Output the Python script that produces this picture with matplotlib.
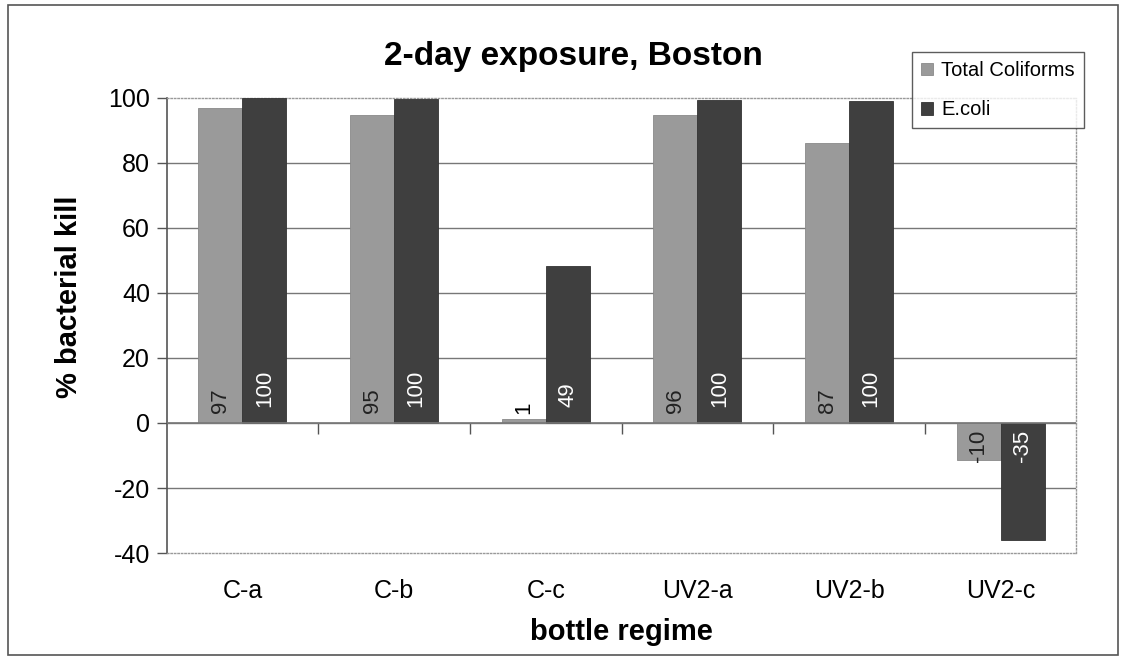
import numpy as np
import matplotlib.pyplot as plt
from matplotlib.patches import Rectangle

plt.rcParams["font.family"] = ["Liberation Sans", "DejaVu Sans"]
plt.rcParams["axes.unicode_minus"] = False

regimes = ["C-a", "C-b", "C-c", "UV2-a", "UV2-b", "UV2-c"]
coliforms = [96.8, 94.8, 1.2, 94.8, 86.0, -11.4]
ecoli = [99.9, 99.5, 48.4, 99.2, 99.0, -36.0]
coliform_labels = ["97", "95", "1", "96", "87", "-10"]
ecoli_labels = ["100", "100", "49", "100", "100", "-35"]

light = "#9a9a9a"
dark = "#3f3f3f"

fig = plt.figure(figsize=(11.26, 6.6), dpi=100)
ax = fig.add_axes([0.148, 0.162, 0.808, 0.690])
fig.patches.append(Rectangle((0.007, 0.008), 0.986, 0.984, transform=fig.transFigure,
                             fill=False, edgecolor="#555555", linewidth=1.2))

x = np.arange(len(regimes))
w = 0.29
ax.bar(x - w / 2, coliforms, w, color=light, edgecolor="#8a8a8a", linewidth=0.6,
       label="Total Coliforms", zorder=3)
ax.bar(x + w / 2, ecoli, w, color=dark, edgecolor="#333333", linewidth=0.6,
       label="E.coli", zorder=3)

lab_fs = 16
for i in range(len(regimes)):
    c, e = coliforms[i], ecoli[i]
    if c >= 0:
        if c < 5:
            ax.text(x[i] - w / 2, c + 1.5, coliform_labels[i], rotation=90, ha="center",
                    va="bottom", fontsize=lab_fs, color="black", zorder=4)
        else:
            ax.text(x[i] - w / 2, 3, coliform_labels[i], rotation=90, ha="center",
                    va="bottom", fontsize=lab_fs, color="#222222", zorder=4)
    else:
        ax.text(x[i] - w / 2, -2, coliform_labels[i], rotation=90, ha="center",
                va="top", fontsize=lab_fs, color="#222222", zorder=4)
    if e >= 0:
        ax.text(x[i] + w / 2, 5, ecoli_labels[i], rotation=90, ha="center",
                va="bottom", fontsize=lab_fs, color="white", zorder=4)
    else:
        ax.text(x[i] + w / 2, -2, ecoli_labels[i], rotation=90, ha="center",
                va="top", fontsize=lab_fs, color="white", zorder=4)

ax.set_xlim(-0.5, len(regimes) - 0.5)
ax.set_ylim(-40, 100)
ax.set_yticks(np.arange(-40, 101, 20))
ax.tick_params(axis="y", labelsize=18, length=7, width=1, color="#555555", pad=5)
ax.set_xticks(x)
ax.set_xticklabels(regimes, fontsize=18)
ax.tick_params(axis="x", length=0, pad=19)

ax.grid(axis="y", color="#777777", linewidth=1, zorder=0)
# top and bottom gridlines coincide with the dotted plot-area border
gl = ax.get_ygridlines()
gl[0].set_visible(False)
gl[-1].set_visible(False)
ax.axhline(0, color="#777777", linewidth=1.2, zorder=3.5)

ax.spines["left"].set_color("#555555")
ax.spines["left"].set_linewidth(1.2)
for side in ["top", "right", "bottom"]:
    ax.spines[side].set_linestyle((0, (1, 1.5)))
    ax.spines[side].set_color("#999999")
    ax.spines[side].set_linewidth(1)

# tick marks between categories on the zero line
zero_frac = (0 - (-40)) / (100 - (-40))
sec = ax.secondary_xaxis(zero_frac)
sec.set_xticks(np.arange(0.5, len(regimes) - 0.5, 1))
sec.tick_params(axis="x", direction="out", length=8, width=1, color="#555555",
                labelbottom=False, labeltop=False, top=False, bottom=True)
for s in sec.spines.values():
    s.set_visible(False)

fig.text(0.509, 0.915, "2-day exposure, Boston", fontsize=24, fontweight="bold",
         ha="center", va="center")
fig.text(0.061, 0.55, "% bacterial kill", fontsize=21, fontweight="bold",
         rotation=90, ha="center", va="center")
fig.text(0.552, 0.042, "bottle regime", fontsize=21, fontweight="bold",
         ha="center", va="center")

leg = fig.legend(loc="upper left", bbox_to_anchor=(0.81, 0.921), fontsize=14.5,
                 frameon=True, fancybox=False, handlelength=0.6, handleheight=0.6,
                 handletextpad=0.4, borderpad=0.45, labelspacing=1.0, borderaxespad=0)
leg.get_frame().set_edgecolor("#333333")
leg.get_frame().set_linewidth(1)

fig.savefig("out.png", dpi=100)
